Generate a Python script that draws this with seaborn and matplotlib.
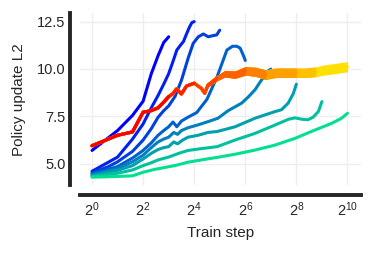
import numpy as np
import pandas as pd
import matplotlib
matplotlib.use("Agg")
import matplotlib.pyplot as plt
import seaborn as sns

# runs end at 2^3 ... 2^10 (log2 of train step)
run_end_exp = [3, 4, 5, 6, 7, 8, 9, 10]

# baseline runs (winter colours): log2(step) knots and policy-update L2 values
w0_x = [0, 1, 1.585, 2, 2.32, 2.585, 2.807, 3]
w0_y = [5.7, 6.75, 7.55, 8.3, 9.75, 10.7, 11.4, 11.7]
w1_x = [0, 1, 1.585, 2, 2.32, 2.585, 2.807, 3, 3.17, 3.32, 3.46, 3.58, 3.7, 3.81, 3.91, 4]
w1_y = [4.6, 5.35, 6.3, 7.1, 7.95, 8.6, 9.2, 9.75, 10.4, 11.0, 11.25, 11.45, 11.85, 12.2, 12.45, 12.5]
w2_x = [0, 0.63, 1, 1.585, 2, 2.32, 2.585, 2.807, 3, 3.25, 3.5, 3.77, 3.96, 4.16, 4.36, 4.55, 4.7, 4.88, 5]
w2_y = [4.52, 4.84, 5.1, 5.65, 6.25, 6.85, 7.45, 7.8, 8.05, 8.55, 9.4, 10.6, 11.35, 11.7, 11.85, 11.7, 11.75, 11.8, 12.05]
w3_x = [0, 1, 1.585, 2, 2.32, 2.585, 2.807, 3, 3.17, 3.32, 3.5, 3.75, 4.1, 4.5, 4.9, 5.28, 5.5, 5.67, 5.8, 5.93, 6]
w3_y = [4.46, 4.85, 5.3, 5.7, 6.1, 6.5, 6.75, 6.95, 7.2, 6.95, 7.25, 7.45, 7.7, 8.4, 9.6, 11.0, 11.2, 11.2, 11.1, 10.7, 10.45]
w4_x = [0, 1, 1.585, 2, 2.32, 2.585, 2.807, 3, 3.2, 3.35, 3.5, 3.76, 4.15, 4.54, 4.93, 5.33, 5.86, 6.1, 6.38, 6.6, 6.9, 7]
w4_y = [4.41, 4.75, 5.1, 5.45, 5.85, 6.15, 6.3, 6.4, 6.65, 6.55, 6.75, 6.9, 7.05, 7.22, 7.4, 7.8, 8.2, 8.5, 8.9, 9.35, 9.9, 10.0]
w5_x = [0, 1, 1.585, 2, 2.32, 2.585, 2.807, 3, 3.2, 3.35, 3.55, 3.76, 4.15, 4.54, 4.9, 5.6, 6.38, 7.16, 7.42, 7.68, 7.88, 8]
w5_y = [4.37, 4.65, 4.9, 5.25, 5.55, 5.75, 5.85, 5.9, 6.15, 6.05, 6.25, 6.4, 6.5, 6.65, 6.7, 6.95, 7.4, 7.75, 7.85, 8.2, 8.7, 9.2]
w6_x = [0, 1, 1.585, 2, 2.32, 2.585, 3, 3.4, 3.76, 4.3, 4.9, 5.6, 6.38, 7.16, 7.7, 7.95, 8.2, 8.45, 8.65, 8.86, 9]
w6_y = [4.33, 4.5, 4.67, 4.9, 5.05, 5.2, 5.35, 5.55, 5.7, 5.8, 5.9, 6.25, 6.6, 7.04, 7.35, 7.42, 7.35, 7.32, 7.45, 7.75, 8.28]
w7_x = [0, 0.63, 1.585, 2, 2.45, 3.24, 3.76, 4.41, 4.93, 5.6, 6.38, 7.16, 7.95, 8.73, 9.38, 9.77, 10]
w7_y = [4.29, 4.31, 4.36, 4.55, 4.7, 4.9, 5.08, 5.23, 5.34, 5.5, 5.72, 5.98, 6.34, 6.78, 7.13, 7.4, 7.66]

# other method (autumn colours): all runs follow the same track, noisy band later on
au_x = [0, 1, 1.585, 2, 2.32, 2.585, 2.807, 3, 3.17, 3.31, 3.5, 3.7, 4.0, 4.15, 4.28, 4.41, 4.54,
        4.87, 5.2, 5.6, 6.0, 6.4, 6.8, 7.2, 7.6, 8.0, 8.35, 8.75, 9.1, 9.5, 10]
au_y = [5.95, 6.5, 6.68, 7.72, 7.8, 7.95, 8.25, 8.54, 8.7, 8.95, 8.68, 9.1, 9.25, 9.1, 8.98, 8.72, 9.15,
        9.5, 9.75, 9.7, 9.9, 9.85, 9.7, 9.8, 9.8, 9.8, 9.8, 9.85, 9.95, 10.02, 10.12]
au_spread = [0, 0, 0, 0, 0, 0, 0, 0, 0, 0, 0, 0, 0, 0.03, 0.05, 0.07, 0.09,
             0.14, 0.17, 0.19, 0.22, 0.24, 0.25, 0.25, 0.25, 0.25, 0.25, 0.26, 0.27, 0.27, 0.27]

x_tick_exp = [0, 2, 4, 6, 8, 10]
y_ticks = [5.0, 7.5, 10.0, 12.5]

sns.set_style("whitegrid")
plt.rcParams["font.family"] = ["Liberation Sans", "DejaVu Sans"]

winter_xs = [w0_x, w1_x, w2_x, w3_x, w4_x, w5_x, w6_x, w7_x]
winter_ys = [w0_y, w1_y, w2_y, w3_y, w4_y, w5_y, w6_y, w7_y]
frames = []
for i, (xs, ys) in enumerate(zip(winter_xs, winter_ys)):
    frames.append(pd.DataFrame({"step": 2.0 ** np.array(xs), "l2": ys, "run": i}))
df_w = pd.concat(frames, ignore_index=True)

n_runs = len(run_end_exp)
winter_pal = [plt.cm.winter(i / n_runs) for i in range(n_runs)]
autumn_pal = [plt.cm.autumn(i / n_runs) for i in range(n_runs)]

fig = plt.figure(figsize=(3.74, 2.54), dpi=100)
ax = fig.add_axes([0.2126, 0.2697, 0.7526, 0.6772])
ax.set_xscale("log", base=2)

sns.lineplot(data=df_w, x="step", y="l2", hue="run", palette=winter_pal,
             estimator=None, sort=False, legend=False, lw=2.2, ax=ax, zorder=2)

au_x = np.array(au_x)
au_y = np.array(au_y)
au_spread = np.array(au_spread)
# longest run first so the shorter (redder) ones sit on top
for i in reversed(range(n_runs)):
    m = au_x <= run_end_exp[i] + 1e-9
    steps = 2.0 ** au_x[m]
    z = 3 + (n_runs - i) * 0.01
    ax.fill_between(steps, au_y[m] - au_spread[m], au_y[m] + au_spread[m],
                    color=autumn_pal[i], lw=0, zorder=z)
    sns.lineplot(x=steps, y=au_y[m], color=autumn_pal[i], estimator=None, sort=False,
                 lw=2.2, ax=ax, zorder=z)

ax.set_xlim(2 ** -0.49, 2 ** 10.53)
ax.set_ylim(3.85, 12.93)
ax.set_xticks([2.0 ** e for e in x_tick_exp])
ax.set_xticklabels([f"$\\mathdefault{{2^{{{e}}}}}$" for e in x_tick_exp])
ax.minorticks_off()
ax.set_yticks(y_ticks)
ax.set_yticklabels([f"{t:.1f}" for t in y_ticks])

ax.grid(True, color="#eeeeee", lw=1.0)
ax.tick_params(axis="both", length=0, labelsize=10.5, colors="#262626")
ax.tick_params(axis="y", pad=3.5)
ax.tick_params(axis="x", pad=4.5)
for s in ["top", "right"]:
    ax.spines[s].set_visible(False)
for s in ["left", "bottom"]:
    ax.spines[s].set_position(("outward", 6.5))
    ax.spines[s].set_linewidth(2.8)
    ax.spines[s].set_color("#262626")

ax.set_xlabel("Train step", fontsize=11, color="#262626", labelpad=4.5)
ax.set_ylabel("Policy update L2", fontsize=11, color="#262626", labelpad=8)

fig.savefig("out.png", dpi=100)
